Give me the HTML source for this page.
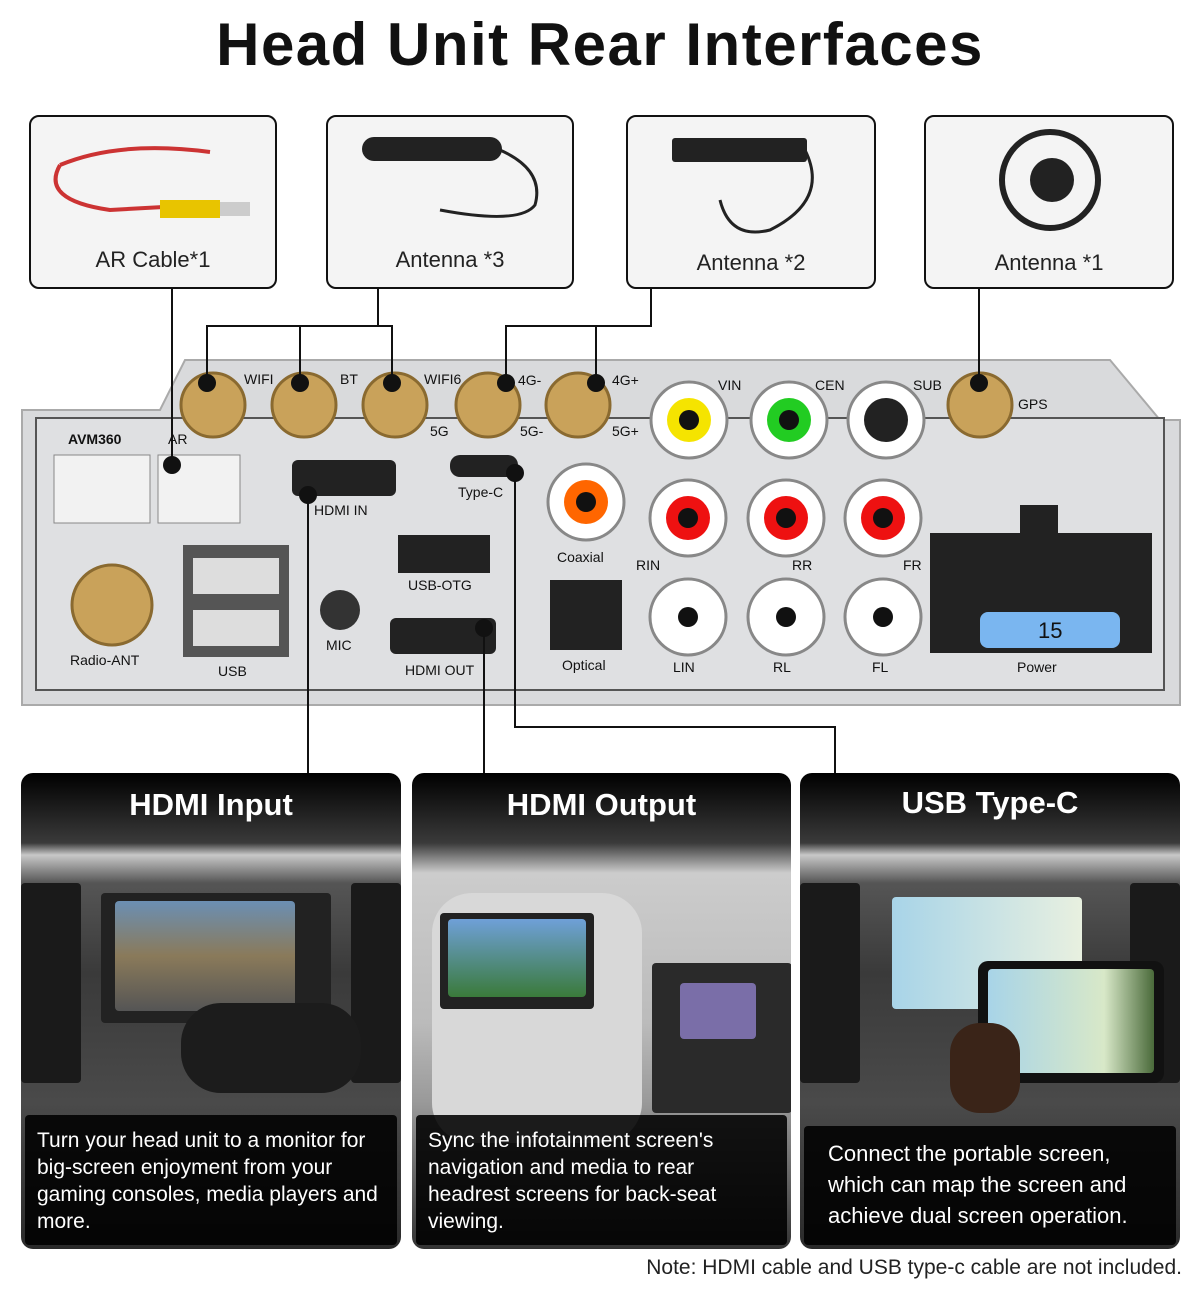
<!DOCTYPE html>
<html><head><meta charset="utf-8"><style>
body{margin:0;width:1200px;height:1303px;background:#fff;font-family:"Liberation Sans",sans-serif;position:relative;overflow:hidden}
.t{position:absolute;left:0;width:1200px;top:10px;text-align:center;font-size:60px;font-weight:bold;color:#111;letter-spacing:1.5px}
.box{position:absolute;top:115px;height:170px;border:2px solid #111;border-radius:10px;background:#f4f4f4}
.box span{position:absolute;left:0;right:0;text-align:center;font-size:22px;color:#222}
.pn{position:absolute;top:773px;height:476px;width:380px;border-radius:12px;background:linear-gradient(#000 0,#3a3a3a 70px,#c8c8c8 82px,#555 110px,#3a3a3a 200px,#4a4a4a 330px,#2a2a2a 476px);overflow:hidden}
.pn h2{margin:0;position:absolute;top:14px;left:0;right:0;text-align:center;color:#fff;font-size:31px;font-weight:bold;z-index:2}
.pn p{position:absolute;left:4px;right:4px;bottom:4px;margin:0;background:rgba(0,0,0,.88);color:#fff;font-size:21px;line-height:27px;padding:12px 10px 10px 12px;border-radius:4px;z-index:2}
.pn .s{position:absolute;border-radius:4px}
.note{position:absolute;right:18px;top:1256px;font-size:21px;color:#222}
</style></head><body>
<div class="t">Head Unit Rear Interfaces</div>
<div class="box" style="left:29px;width:244px"><span style="top:130px">AR Cable*1</span></div>
<div class="box" style="left:326px;width:244px"><span style="top:130px">Antenna *3</span></div>
<div class="box" style="left:626px;width:246px"><span style="top:133px">Antenna *2</span></div>
<div class="box" style="left:924px;width:246px"><span style="top:133px">Antenna *1</span></div>
<div class="pn" style="left:21px">
<div class="s" style="left:80px;top:120px;width:230px;height:130px;background:#222"></div>
<div class="s" style="left:94px;top:128px;width:180px;height:110px;background:linear-gradient(#6b8fb3,#8a7a5a 50%,#555)"></div>
<div class="s" style="left:0;top:110px;width:60px;height:200px;background:#1a1a1a"></div>
<div class="s" style="left:330px;top:110px;width:50px;height:200px;background:#1a1a1a"></div>
<div class="s" style="left:160px;top:230px;width:180px;height:90px;border-radius:40px;background:#1c1c1c"></div>
<h2>HDMI Input</h2><p>Turn your head unit to a monitor for big-screen enjoyment from your gaming consoles, media players and more.</p></div>
<div class="pn" style="left:412px;width:379px;background:linear-gradient(#000 0,#3a3a3a 70px,#ccc 100px,#bbb 250px,#999 330px,#333 476px)">
<div class="s" style="left:20px;top:120px;width:210px;height:250px;border-radius:40px;background:#d8d8d8"></div>
<div class="s" style="left:28px;top:140px;width:154px;height:96px;background:#222"></div>
<div class="s" style="left:36px;top:146px;width:138px;height:78px;background:linear-gradient(#6fa0d8,#3a7a3a)"></div>
<div class="s" style="left:240px;top:190px;width:140px;height:150px;background:#2a2a2a"></div>
<div class="s" style="left:268px;top:210px;width:76px;height:56px;background:#7a6ea8"></div>
<h2>HDMI Output</h2><p>Sync the infotainment screen's navigation and media to rear headrest screens for back-seat viewing.</p></div>
<div class="pn" style="left:800px">
<div class="s" style="left:0;top:110px;width:60px;height:200px;background:#1a1a1a"></div>
<div class="s" style="left:330px;top:110px;width:50px;height:200px;background:#1a1a1a"></div>
<div class="s" style="left:92px;top:124px;width:190px;height:112px;background:linear-gradient(90deg,#a8d4e8,#e8f0e0)"></div>
<div class="s" style="left:178px;top:188px;width:186px;height:122px;border-radius:10px;background:#111"></div>
<div class="s" style="left:188px;top:196px;width:166px;height:104px;background:linear-gradient(90deg,#a8d4e8,#d8e8c8 70%,#4a6a3a)"></div>
<div class="s" style="left:150px;top:250px;width:70px;height:90px;border-radius:30px;background:#3a2418"></div>
<h2 style="top:12px">USB Type-C</h2><p style="font-size:22px;line-height:31px;padding:12px 24px 14px">Connect the portable screen, which can map the screen and achieve dual screen operation.</p></div>
<svg width="1200" height="1303" style="position:absolute;left:0;top:0">
<path d="M60 165 Q40 200 110 210 L200 205 M60 165 Q120 140 210 152" stroke="#c33" stroke-width="4" fill="none"/>
<rect x="160" y="200" width="60" height="18" fill="#e8c400"/><rect x="220" y="202" width="30" height="14" fill="#ccc"/>
<rect x="362" y="137" width="140" height="24" rx="12" fill="#222"/><path d="M500 150 Q545 170 535 205 Q520 225 440 210" stroke="#222" stroke-width="3" fill="none"/>
<rect x="672" y="138" width="135" height="24" rx="3" fill="#222"/><path d="M805 150 Q830 200 770 230 Q730 240 720 200" stroke="#222" stroke-width="3" fill="none"/>
<circle cx="1050" cy="180" r="48" fill="none" stroke="#222" stroke-width="6"/><circle cx="1052" cy="180" r="22" fill="#222"/>
<path d="M22 410 L160 410 L185 360 L1110 360 L1160 420 L1180 420 L1180 705 L22 705 Z" fill="#d9dadc" stroke="#aaa" stroke-width="2"/>
<rect x="36" y="418" width="1128" height="272" fill="#dfe0e2" stroke="#555" stroke-width="2"/>
<g fill="#c9a25a" stroke="#8a6a30" stroke-width="3">
<circle cx="213" cy="405" r="32"/><circle cx="304" cy="405" r="32"/><circle cx="395" cy="405" r="32"/><circle cx="488" cy="405" r="32"/><circle cx="578" cy="405" r="32"/><circle cx="980" cy="405" r="32"/><circle cx="112" cy="605" r="40"/></g>
<g fill="#fff" stroke="#888" stroke-width="3">
<circle cx="689" cy="420" r="38"/><circle cx="789" cy="420" r="38"/><circle cx="886" cy="420" r="38"/>
<circle cx="688" cy="518" r="38"/><circle cx="786" cy="518" r="38"/><circle cx="883" cy="518" r="38"/><circle cx="586" cy="502" r="38"/>
<circle cx="688" cy="617" r="38"/><circle cx="786" cy="617" r="38"/><circle cx="883" cy="617" r="38"/></g>
<circle cx="689" cy="420" r="22" fill="#f5e400"/><circle cx="789" cy="420" r="22" fill="#2c2"/><circle cx="886" cy="420" r="22" fill="#222"/>
<circle cx="688" cy="518" r="22" fill="#e11"/><circle cx="786" cy="518" r="22" fill="#e11"/><circle cx="883" cy="518" r="22" fill="#e11"/><circle cx="586" cy="502" r="22" fill="#f60"/>
<g fill="#111"><circle cx="689" cy="420" r="10"/><circle cx="789" cy="420" r="10"/><circle cx="688" cy="518" r="10"/><circle cx="786" cy="518" r="10"/><circle cx="883" cy="518" r="10"/><circle cx="586" cy="502" r="10"/><circle cx="688" cy="617" r="10"/><circle cx="786" cy="617" r="10"/><circle cx="883" cy="617" r="10"/></g>
<rect x="54" y="455" width="96" height="68" fill="#f2f2f2" stroke="#888"/><rect x="158" y="455" width="82" height="68" fill="#f2f2f2" stroke="#888"/>
<rect x="183" y="545" width="106" height="112" fill="#555"/><rect x="193" y="558" width="86" height="36" fill="#ddd"/><rect x="193" y="610" width="86" height="36" fill="#ddd"/>
<rect x="292" y="460" width="104" height="36" rx="6" fill="#222"/><rect x="450" y="455" width="68" height="22" rx="10" fill="#222"/>
<rect x="398" y="535" width="92" height="38" fill="#222"/><rect x="390" y="618" width="106" height="36" rx="6" fill="#222"/>
<circle cx="340" cy="610" r="20" fill="#333"/><rect x="550" y="580" width="72" height="70" fill="#222"/>
<rect x="930" y="533" width="222" height="120" fill="#222"/><rect x="1020" y="505" width="38" height="30" fill="#222"/>
<rect x="980" y="612" width="140" height="36" rx="8" fill="#7ab6f0"/>
<g font-size="14" fill="#111" font-family="Liberation Sans"><text x="244" y="384">WIFI</text><text x="340" y="384">BT</text><text x="424" y="384">WIFI6</text><text x="430" y="436">5G</text><text x="518" y="385">4G-</text><text x="520" y="436">5G-</text><text x="612" y="385">4G+</text><text x="612" y="436">5G+</text><text x="718" y="390">VIN</text><text x="815" y="390">CEN</text><text x="913" y="390">SUB</text><text x="1018" y="409">GPS</text>
<text x="68" y="444" font-weight="bold">AVM360</text><text x="168" y="444">AR</text><text x="314" y="515">HDMI IN</text><text x="458" y="497">Type-C</text><text x="408" y="590">USB-OTG</text><text x="326" y="650">MIC</text><text x="405" y="675">HDMI OUT</text><text x="557" y="562">Coaxial</text><text x="562" y="670">Optical</text><text x="636" y="570">RIN</text><text x="792" y="570">RR</text><text x="903" y="570">FR</text><text x="673" y="672">LIN</text><text x="773" y="672">RL</text><text x="872" y="672">FL</text><text x="70" y="665">Radio-ANT</text><text x="218" y="676">USB</text><text x="1017" y="672">Power</text><text x="1038" y="638" font-size="22">15</text></g>
<g stroke="#111" stroke-width="2" fill="none">
<path d="M172 288 V465"/><path d="M378 288 V326 M207 383 V326 H392 V383 M300 326 V383"/>
<path d="M651 288 V326 H506 V383 M596 326 V383"/><path d="M979 288 V383"/>
<path d="M308 495 V773"/><path d="M484 628 V773"/><path d="M515 473 V727 H835 V773"/></g>
<g fill="#111"><circle cx="172" cy="465" r="9"/><circle cx="207" cy="383" r="9"/><circle cx="300" cy="383" r="9"/><circle cx="392" cy="383" r="9"/><circle cx="506" cy="383" r="9"/><circle cx="596" cy="383" r="9"/><circle cx="979" cy="383" r="9"/><circle cx="308" cy="495" r="9"/><circle cx="484" cy="628" r="9"/><circle cx="515" cy="473" r="9"/></g>
</svg>
<div class="note">Note: HDMI cable and USB type-c cable are not included.</div>
</body></html>
